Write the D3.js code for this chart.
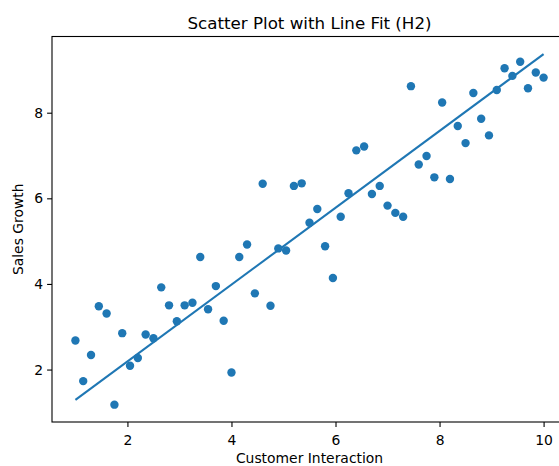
<!DOCTYPE html>
<html>
<head>
<meta charset="utf-8">
<script src="https://cdnjs.cloudflare.com/ajax/libs/d3/7.8.5/d3.min.js"></script>
<style>
  html, body { margin: 0; padding: 0; background: #fff; overflow: hidden; }
  svg { display: block; font-family: "DejaVu Sans", sans-serif; }
</style>
</head>
<body>
<div id="chart"></div>
<script>
// Values
const customerInteraction = [
  1.00, 1.15, 1.30, 1.45, 1.60, 1.75, 1.90, 2.05, 2.20, 2.35,
  2.50, 2.65, 2.80, 2.95, 3.10, 3.25, 3.40, 3.55, 3.70, 3.85,
  4.00, 4.15, 4.30, 4.45, 4.60, 4.75, 4.90, 5.05, 5.20, 5.35,
  5.50, 5.65, 5.80, 5.95, 6.10, 6.25, 6.40, 6.55, 6.70, 6.85,
  7.00, 7.15, 7.30, 7.45, 7.60, 7.75, 7.90, 8.05, 8.20, 8.35,
  8.50, 8.65, 8.80, 8.95, 9.10, 9.25, 9.40, 9.55, 9.70, 9.85, 10.00
];
const salesGrowth = [
  2.68, 1.73, 2.34, 3.48, 3.31, 1.18, 2.85, 2.09, 2.27, 2.82,
  2.73, 3.92, 3.50, 3.13, 3.50, 3.56, 4.63, 3.41, 3.95, 3.14,
  1.93, 4.63, 4.92, 3.78, 6.34, 3.49, 4.83, 4.78, 6.29, 6.35,
  5.43, 5.75, 4.88, 4.14, 5.57, 6.12, 7.12, 7.21, 6.10, 6.29,
  5.83, 5.66, 5.57, 8.62, 6.79, 6.99, 6.49, 8.24, 6.45, 7.69,
  7.29, 8.46, 7.86, 7.47, 8.53, 9.04, 8.86, 9.19, 8.57, 8.94, 8.82
];
// Fitted line end points
const fitX = [1, 10];
const fitY = [1.29, 9.37];

const xTicks = [2, 4, 6, 8, 10];
const yTicks = [2, 4, 6, 8];

const width = 559;
const height = 466;
const margin = { top: 36.5, right: -8, bottom: 44, left: 52 };
const blue = '#1f77b4';

const svg = d3.select('#chart')
  .append('svg')
  .attr('width', width)
  .attr('height', height);

const x = d3.scaleLinear()
  .domain([0.55, 10.45])
  .range([margin.left, width - margin.right]);

const y = d3.scaleLinear()
  .domain([0.775, 9.78])
  .range([height - margin.bottom, margin.top]);

// Axes
const xAxis = svg.append('g')
  .attr('transform', `translate(0,${height - margin.bottom})`)
  .call(d3.axisBottom(x).tickValues(xTicks).tickSize(4.9).tickSizeOuter(0).tickPadding(8.5));

const yAxis = svg.append('g')
  .attr('transform', `translate(${margin.left},0)`)
  .call(d3.axisLeft(y).tickValues(yTicks).tickSize(4.9).tickSizeOuter(0).tickPadding(4));

[xAxis, yAxis].forEach(a => {
  a.select('.domain').remove();
  a.selectAll('line').attr('stroke', '#000').attr('stroke-width', 1.1);
  a.selectAll('text')
    .attr('fill', '#000')
    .style('font-size', '13.9px')
    .style('font-family', '"DejaVu Sans", sans-serif');
});

// Fit line
const line = d3.line()
  .x(d => x(d[0]))
  .y(d => y(d[1]));

svg.append('path')
  .datum(fitX.map((v, i) => [v, fitY[i]]))
  .attr('d', line)
  .attr('fill', 'none')
  .attr('stroke', blue)
  .attr('stroke-width', 2.1);

// Scatter points
svg.append('g')
  .selectAll('circle')
  .data(customerInteraction.map((v, i) => [v, salesGrowth[i]]))
  .join('circle')
  .attr('cx', d => x(d[0]))
  .attr('cy', d => y(d[1]))
  .attr('r', 4.2)
  .attr('fill', blue);

// Frame (spines)
svg.append('rect')
  .attr('x', margin.left)
  .attr('y', margin.top)
  .attr('width', x.range()[1] - margin.left)
  .attr('height', height - margin.bottom - margin.top)
  .attr('fill', 'none')
  .attr('stroke', '#000')
  .attr('stroke-width', 1.1);

// Title and labels
const cx = (x.range()[0] + x.range()[1]) / 2;

svg.append('text')
  .attr('x', cx)
  .attr('y', 28.5)
  .attr('text-anchor', 'middle')
  .style('font-size', '16.7px')
  .attr('fill', '#000')
  .text('Scatter Plot with Line Fit (H2)');

svg.append('text')
  .attr('x', cx)
  .attr('y', 463)
  .attr('text-anchor', 'middle')
  .style('font-size', '13.9px')
  .attr('fill', '#000')
  .text('Customer Interaction');

svg.append('text')
  .attr('transform', `translate(23,${(margin.top + height - margin.bottom) / 2}) rotate(-90)`)
  .attr('text-anchor', 'middle')
  .style('font-size', '13.9px')
  .attr('fill', '#000')
  .text('Sales Growth');
</script>
</body>
</html>
